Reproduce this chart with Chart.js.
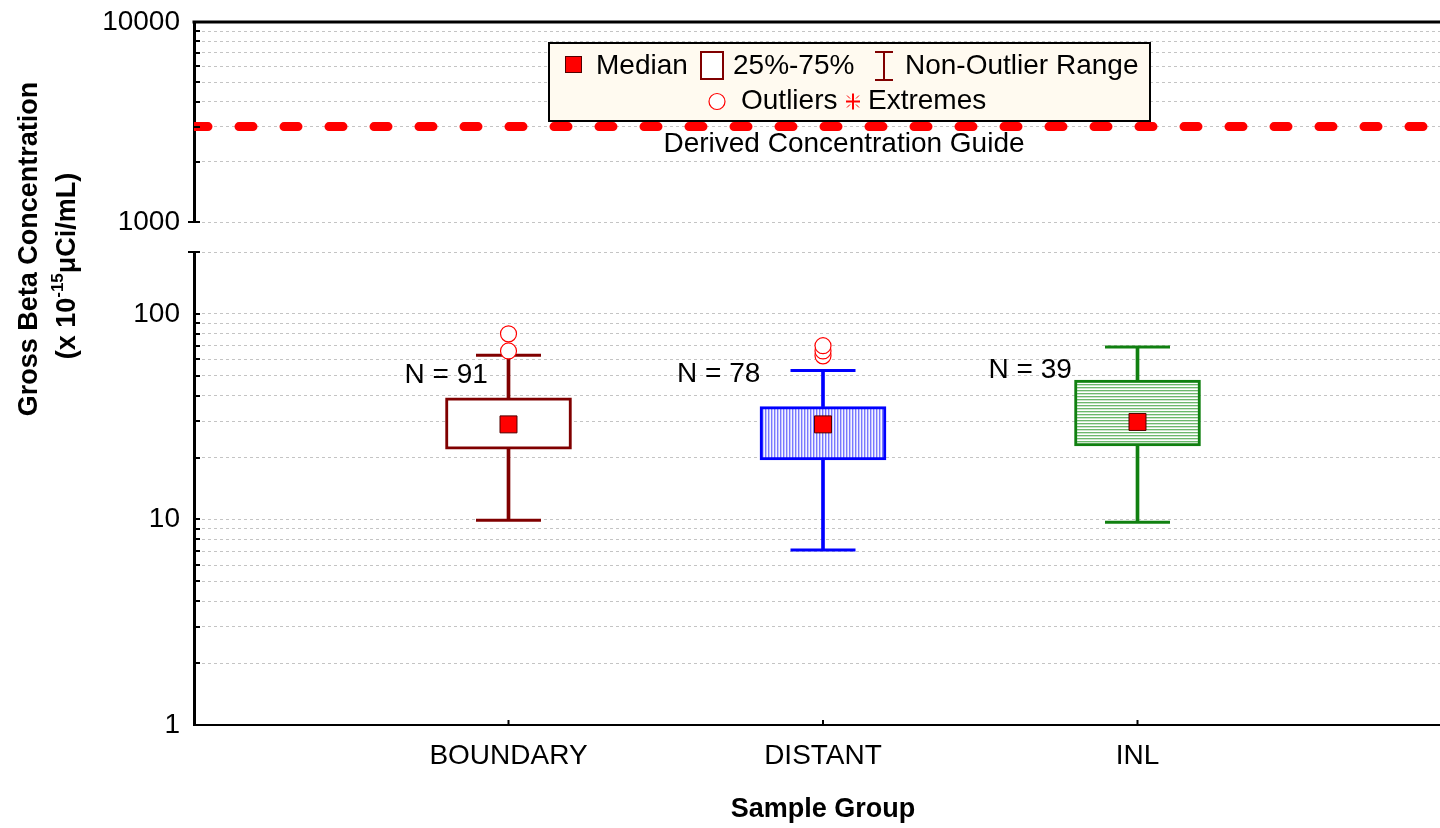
<!DOCTYPE html>
<html><head><meta charset="utf-8">
<script src="https://cdn.jsdelivr.net/npm/chart.js@4.4.0/dist/chart.umd.min.js"></script>
<style>
html,body{margin:0;padding:0;background:#fff;overflow:hidden;}
#wrap{width:1440px;height:828px;overflow:hidden;position:relative;background:#fff;}
canvas{display:block;}
</style></head><body>
<div id="wrap"><canvas id="c" width="1460" height="828"></canvas></div>
<script>
// ---- data ----
const groups = ['BOUNDARY', 'DISTANT', 'INL'];
const sampleCounts = [91, 78, 39];
const medians = [29, 29, 29.8];
const q1 = [22, 19.5, 22.8];
const q3 = [39, 35.4, 47.7];
const whiskerMin = [9.9, 7.1, 9.7];
const whiskerMax = [63, 53, 69];
const outliers = [[66, 80], [62.5, 66, 70], []];
const dcgValue = 3000;
const lowerTickValues = [1, 2, 3, 4, 5, 6, 7, 8, 9, 10, 20, 30, 40, 50, 60, 70, 80, 90, 100, 200];
const upperTickValues = [1000, 2000, 3000, 4000, 5000, 6000, 7000, 8000, 9000, 10000];
const lowerTickLabels = [1, 10, 100];
const upperTickLabels = [1000, 10000];
const xLabels = ['', ...groups, ''];
const nLabelValues = [50, 51, 53.4];

// ---- styles ----
const FONT = "'Liberation Sans', Arial, sans-serif";
const groupColors = ['#800000', '#0000ff', '#108010'];

function stripePattern(colors, vertical) {
  const c = document.createElement('canvas');
  c.width = vertical ? colors.length : 1;
  c.height = vertical ? 1 : colors.length;
  const g = c.getContext('2d');
  colors.forEach((col, i) => {
    g.fillStyle = col;
    if (vertical) g.fillRect(i, 0, 1, 1); else g.fillRect(0, i, 1, 1);
  });
  return document.getElementById('c').getContext('2d').createPattern(c, 'repeat');
}
const boxFills = [
  '#ffffff',
  stripePattern(['#7878ff', '#c4c4ff', '#f4f4ff'], true),
  stripePattern(['#6cb86c', '#cde6cd', '#ffffff'], false)
];

const isShown = (v, list) => list.some(t => Math.abs(t - v) < 1e-6 * t);

const decorations = {
  id: 'decorations',
  afterDraw(chart) {
    const ctx = chart.ctx;
    const ca = chart.chartArea;
    const xS = chart.scales.x, yT = chart.scales.yTop, yB = chart.scales.yBot;
    ctx.save();
    // top frame
    ctx.strokeStyle = '#000'; ctx.lineWidth = 3;
    ctx.beginPath(); ctx.moveTo(ca.left - 1.5, ca.top); ctx.lineTo(ca.right, ca.top); ctx.stroke();
    // inner y ticks
    ctx.lineWidth = 2;
    [yT, yB].forEach(sc => {
      sc.ticks.forEach(t => {
        const p = Math.round(sc.getPixelForValue(t.value));
        if (p <= ca.top + 1 || p >= ca.bottom - 1) return;
        ctx.beginPath(); ctx.moveTo(ca.left, p); ctx.lineTo(ca.left + 6, p); ctx.stroke();
      });
    });
    // break caps
    [yT.bottom, yB.top].forEach(p => {
      ctx.beginPath(); ctx.moveTo(ca.left - 6, p); ctx.lineTo(ca.left + 6, p); ctx.stroke();
    });
    // x inner ticks
    for (let i = 1; i <= groups.length; i++) {
      const px = xS.getPixelForValue(i);
      ctx.beginPath(); ctx.moveTo(px, ca.bottom); ctx.lineTo(px, ca.bottom - 5); ctx.stroke();
    }
    // N labels
    ctx.fillStyle = '#000';
    ctx.font = '28px ' + FONT;
    ctx.textAlign = 'left'; ctx.textBaseline = 'middle';
    const dx = [-104, -146, -149];
    groups.forEach((g, i) => {
      ctx.fillText('N = ' + sampleCounts[i], xS.getPixelForValue(i + 1) + dx[i], yB.getPixelForValue(nLabelValues[i]));
    });
    // DCG label
    ctx.textAlign = 'center';
    ctx.fillText('Derived Concentration Guide', ca.left + 650, yT.getPixelForValue(dcgValue) + 18);

    // legend
    const L = 549, T = 43, R = 1150, B = 121;
    ctx.fillStyle = '#fffaf0';
    ctx.fillRect(L, T, R - L, B - T);
    ctx.strokeStyle = '#000'; ctx.lineWidth = 2;
    ctx.strokeRect(L, T, R - L, B - T);
    const r1 = 66, r2 = 101.5;
    // median icon
    ctx.fillStyle = '#ff0000'; ctx.fillRect(565, 56, 17, 17);
    ctx.strokeStyle = '#500000'; ctx.lineWidth = 1; ctx.strokeRect(565.5, 56.5, 16, 16);
    // box icon
    ctx.fillStyle = '#fff'; ctx.fillRect(701, 52, 22, 27);
    ctx.strokeStyle = '#800000'; ctx.lineWidth = 2; ctx.strokeRect(701, 52, 22, 27);
    // whisker icon
    ctx.beginPath();
    ctx.moveTo(884, 52); ctx.lineTo(884, 80);
    ctx.moveTo(875, 52); ctx.lineTo(893, 52);
    ctx.moveTo(875, 80); ctx.lineTo(893, 80);
    ctx.stroke();
    // outlier icon
    ctx.beginPath(); ctx.arc(717, r2, 8, 0, Math.PI * 2);
    ctx.fillStyle = '#fff'; ctx.fill();
    ctx.strokeStyle = '#ff0000'; ctx.lineWidth = 1.2; ctx.stroke();
    // extremes icon
    const ex = 853;
    ctx.strokeStyle = '#ff0000'; ctx.lineWidth = 2;
    ctx.beginPath();
    ctx.moveTo(ex, r2 - 8); ctx.lineTo(ex, r2 + 8);
    ctx.moveTo(ex - 7, r2); ctx.lineTo(ex + 7, r2);
    ctx.stroke();
    ctx.lineWidth = 1;
    ctx.beginPath();
    ctx.moveTo(ex - 6, r2 - 6); ctx.lineTo(ex - 3, r2 - 3);
    ctx.moveTo(ex + 6, r2 - 6); ctx.lineTo(ex + 3, r2 - 3);
    ctx.moveTo(ex - 6, r2 + 6); ctx.lineTo(ex - 3, r2 + 3);
    ctx.moveTo(ex + 6, r2 + 6); ctx.lineTo(ex + 3, r2 + 3);
    ctx.stroke();
    ctx.fillStyle = '#000';
    ctx.textAlign = 'left'; ctx.textBaseline = 'middle';
    ctx.font = '28px ' + FONT;
    ctx.fillText('Median', 596, r1);
    ctx.fillText('25%-75%', 733, r1);
    ctx.fillText('Non-Outlier Range', 905, r1);
    ctx.fillText('Outliers', 741, r2);
    ctx.fillText('Extremes', 868, r2);

    // y axis title
    ctx.save();
    ctx.translate(30, 249);
    ctx.rotate(-Math.PI / 2);
    ctx.font = 'bold 27px ' + FONT;
    ctx.textAlign = 'center';
    ctx.fillText('Gross Beta Concentration', 0, 0);
    ctx.restore();
    ctx.save();
    ctx.translate(68, 266);
    ctx.rotate(-Math.PI / 2);
    ctx.textAlign = 'left';
    const big = 'bold 27px ' + FONT, small = 'bold 17px ' + FONT;
    const p1 = '(x 10', p2 = '-15', p3 = '\u03bcCi/mL)';
    ctx.font = big; const w1 = ctx.measureText(p1).width, w3 = ctx.measureText(p3).width;
    ctx.font = small; const w2 = ctx.measureText(p2).width;
    let x = -(w1 + w2 + w3) / 2;
    ctx.font = big; ctx.fillText(p1, x, 0); x += w1;
    ctx.font = small; ctx.fillText(p2, x, -10); x += w2;
    ctx.font = big; ctx.fillText(p3, x, 0);
    ctx.restore();

    ctx.restore();
  }
};

const perGroup = (fn) => groups.map((g, i) => fn(g, i));

const datasets = [
  {
    type: 'line', label: 'DCG', yAxisID: 'yTop',
    data: xLabels.map(() => dcgValue),
    borderColor: '#ff0000', borderWidth: 9, borderDash: [14, 31], borderCapStyle: 'round',
    pointRadius: 0, clip: 0, order: 6
  },
  {
    type: 'bar', label: 'whisker hi', yAxisID: 'yBot',
    data: perGroup((g, i) => ({ x: g, y: [q3[i], whiskerMax[i]] })),
    backgroundColor: groupColors, borderWidth: 0, barThickness: 3, grouped: false, order: 5
  },
  {
    type: 'bar', label: 'whisker lo', yAxisID: 'yBot',
    data: perGroup((g, i) => ({ x: g, y: [whiskerMin[i], q1[i]] })),
    backgroundColor: groupColors, borderWidth: 0, barThickness: 3, grouped: false, order: 5
  },
  {
    type: 'line', label: 'caps', yAxisID: 'yBot', showLine: false,
    data: groups.flatMap((g, i) => [{ x: g, y: whiskerMax[i] }, { x: g, y: whiskerMin[i] }]),
    pointStyle: 'line', pointRadius: 32.5, pointHoverRadius: 32.5, pointBorderWidth: 3,
    pointBorderColor: groups.flatMap((g, i) => [groupColors[i], groupColors[i]]), order: 4
  },
  {
    type: 'bar', label: '25%-75%', yAxisID: 'yBot',
    data: perGroup((g, i) => ({ x: g, y: [q1[i], q3[i]] })),
    backgroundColor: boxFills, borderColor: groupColors, borderWidth: 3, borderSkipped: false,
    barThickness: 126, grouped: false, order: 3
  },
  {
    type: 'line', label: 'Median', yAxisID: 'yBot', showLine: false,
    data: perGroup((g, i) => ({ x: g, y: medians[i] })),
    pointStyle: 'rect', pointRadius: 12, pointHoverRadius: 12,
    pointBackgroundColor: '#ff0000', pointBorderColor: '#500000', pointBorderWidth: 1, order: 1
  },
  {
    type: 'line', label: 'Outliers', yAxisID: 'yBot', showLine: false,
    data: groups.flatMap((g, i) => outliers[i].map(v => ({ x: g, y: v }))),
    pointStyle: 'circle', pointRadius: 8, pointHoverRadius: 8,
    pointBackgroundColor: '#ffffff', pointBorderColor: '#ff0000', pointBorderWidth: 1.2, order: 0
  }
];

const yTickFont = { family: FONT, size: 28 };
const gridOpts = { color: '#c4c4c4', lineWidth: 1, drawTicks: false };
function zeroPad(s) { s.paddingTop = 0; s.paddingBottom = 0; s.paddingLeft = 0; s.paddingRight = 0; }
function fixTicks(values) {
  return (s) => { s.ticks = values.map(v => ({ value: v })); };
}

new Chart(document.getElementById('c'), {
  type: 'bar',
  data: { labels: xLabels, datasets },
  plugins: [decorations],
  options: {
    responsive: false,
    animation: false,
    events: [],
    layout: { autoPadding: false, padding: { left: 0, right: 8, top: 22, bottom: 0 } },
    plugins: { legend: { display: false }, tooltip: { enabled: false } },
    scales: {
      x: {
        type: 'category', offset: false,
        grid: { display: false, drawTicks: false },
        border: { display: true, color: '#000', width: 2 },
        ticks: { color: '#000', font: { family: FONT, size: 28 }, padding: 14, autoSkip: false, maxRotation: 0 },
        title: { display: true, text: 'Sample Group', color: '#000', font: { family: FONT, size: 27, weight: 'bold' }, padding: { top: 0, bottom: 2 } },
        afterFit(s) { s.height = 103; zeroPad(s); }
      },
      yBot: {
        type: 'logarithmic', position: 'left', stack: 'y', stackWeight: 473,
        min: 1, max: 200,
        grid: gridOpts,
        border: { display: true, color: '#000', width: 3, dash: [3, 3] },
        ticks: { color: '#000', font: yTickFont, padding: 14, autoSkip: false,
          callback: (v) => isShown(v, lowerTickLabels) ? String(Math.round(v)) : '' },
        afterBuildTicks: fixTicks(lowerTickValues),
        afterFit(s) { s.width = 194; zeroPad(s); }
      },
      yGap: {
        type: 'linear', position: 'left', stack: 'y', stackWeight: 30,
        min: 0, max: 1,
        grid: { display: false, drawTicks: false },
        border: { display: false },
        ticks: { display: false },
        afterFit(s) { s.width = 194; zeroPad(s); }
      },
      yTop: {
        type: 'logarithmic', position: 'left', stack: 'y', stackWeight: 200,
        min: 1000, max: 10000,
        grid: gridOpts,
        border: { display: true, color: '#000', width: 3, dash: [3, 3] },
        ticks: { color: '#000', font: yTickFont, padding: 14, autoSkip: false,
          callback: (v) => isShown(v, upperTickLabels) ? String(Math.round(v)) : '' },
        afterBuildTicks: fixTicks(upperTickValues),
        afterFit(s) { s.width = 194; zeroPad(s); }
      }
    }
  }
});
</script>
</body></html>
